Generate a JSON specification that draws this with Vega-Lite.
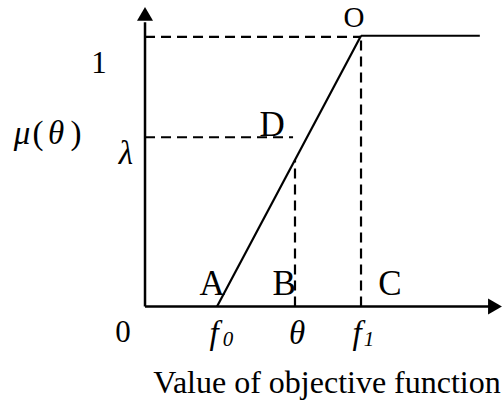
{
  "$schema": "https://vega.github.io/schema/vega-lite/v6.json",
  "width": 502,
  "height": 400,
  "padding": 0,
  "autosize": {"type": "fit", "contains": "padding"},
  "config": {"view": {"stroke": null}, "text": {"font": "Liberation Serif", "color": "black", "align": "center", "baseline": "alphabetic"}},
  "datasets": {
    "axes": [
      {"x": 0, "y": 0, "x2": 0, "y2": 1.05},
      {"x": 0, "y": 0, "x2": 4.8, "y2": 0}
    ],
    "curve": [
      {"x": 1, "y": 0, "x2": 3, "y2": 1},
      {"x": 3, "y": 1, "x2": 4.65, "y2": 1}
    ],
    "guides": [
      {"x": 0, "y": 0.996, "x2": 3, "y2": 0.996},
      {"x": 3, "y": 0, "x2": 3, "y2": 1},
      {"x": 0, "y": 0.625, "x2": 2.056, "y2": 0.625},
      {"x": 2.083, "y": 0, "x2": 2.083, "y2": 0.5415}
    ],
    "arrowUp": [{"x": 0, "y": 1.081}],
    "arrowRight": [{"x": 4.861, "y": 0}],
    "pointLabels": [
      {"x": 0.931, "y": 0.042, "label": "A"},
      {"x": 1.931, "y": 0.042, "label": "B"},
      {"x": 3.403, "y": 0.042, "label": "C"},
      {"x": 1.764, "y": 0.629, "label": "D"}
    ],
    "oLabel": [
      {"x": 2.903, "y": 1.033, "label": "O"}
    ],
    "numLabels": [
      {"x": -0.639, "y": 0.864, "label": "1"},
      {"x": -0.306, "y": -0.132, "label": "0"}
    ],
    "parens": [
      {"x": -1.486, "y": 0.599, "label": "("},
      {"x": -0.958, "y": 0.599, "label": ")"}
    ],
    "symbols": [
      {"x": -1.708, "y": 0.599, "label": "μ"},
      {"x": -1.236, "y": 0.599, "label": "θ"},
      {"x": -0.264, "y": 0.526, "label": "λ"},
      {"x": 0.958, "y": -0.14, "label": "f"},
      {"x": 2.111, "y": -0.14, "label": "θ"},
      {"x": 2.944, "y": -0.14, "label": "f"}
    ],
    "subscripts": [
      {"x": 1.153, "y": -0.147, "label": "0"},
      {"x": 3.111, "y": -0.147, "label": "1"}
    ],
    "title": [
      {"x": 2.528, "y": -0.32, "label": "Value of objective function"}
    ]
  },
  "encoding": {
    "x": {"field": "x", "type": "quantitative", "scale": {"domain": [-2.014, 4.958], "nice": false, "zero": false}, "axis": null},
    "y": {"field": "y", "type": "quantitative", "scale": {"domain": [-0.338, 1.132], "nice": false, "zero": false}, "axis": null}
  },
  "layer": [
    {"data": {"name": "axes"}, "mark": {"type": "rule", "color": "black", "strokeWidth": 2.5}, "encoding": {"x2": {"field": "x2"}, "y2": {"field": "y2"}}},
    {"data": {"name": "curve"}, "mark": {"type": "rule", "color": "black", "strokeWidth": 2.2}, "encoding": {"x2": {"field": "x2"}, "y2": {"field": "y2"}}},
    {"data": {"name": "guides"}, "mark": {"type": "rule", "color": "black", "strokeWidth": 2.2, "strokeDash": [10, 6]}, "encoding": {"x2": {"field": "x2"}, "y2": {"field": "y2"}}},
    {"data": {"name": "arrowUp"}, "mark": {"type": "point", "shape": "triangle-up", "filled": true, "color": "black", "size": 256, "opacity": 1}},
    {"data": {"name": "arrowRight"}, "mark": {"type": "point", "shape": "triangle-right", "filled": true, "color": "black", "size": 256, "opacity": 1}},
    {"data": {"name": "pointLabels"}, "mark": {"type": "text", "fontSize": 35}, "encoding": {"text": {"field": "label"}}},
    {"data": {"name": "oLabel"}, "mark": {"type": "text", "fontSize": 29}, "encoding": {"text": {"field": "label"}}},
    {"data": {"name": "numLabels"}, "mark": {"type": "text", "fontSize": 31}, "encoding": {"text": {"field": "label"}}},
    {"data": {"name": "parens"}, "mark": {"type": "text", "fontSize": 33}, "encoding": {"text": {"field": "label"}}},
    {"data": {"name": "symbols"}, "mark": {"type": "text", "fontSize": 33, "fontStyle": "italic"}, "encoding": {"text": {"field": "label"}}},
    {"data": {"name": "subscripts"}, "mark": {"type": "text", "fontSize": 21, "fontStyle": "italic"}, "encoding": {"text": {"field": "label"}}},
    {"data": {"name": "title"}, "mark": {"type": "text", "fontSize": 32}, "encoding": {"text": {"field": "label"}}}
  ]
}
